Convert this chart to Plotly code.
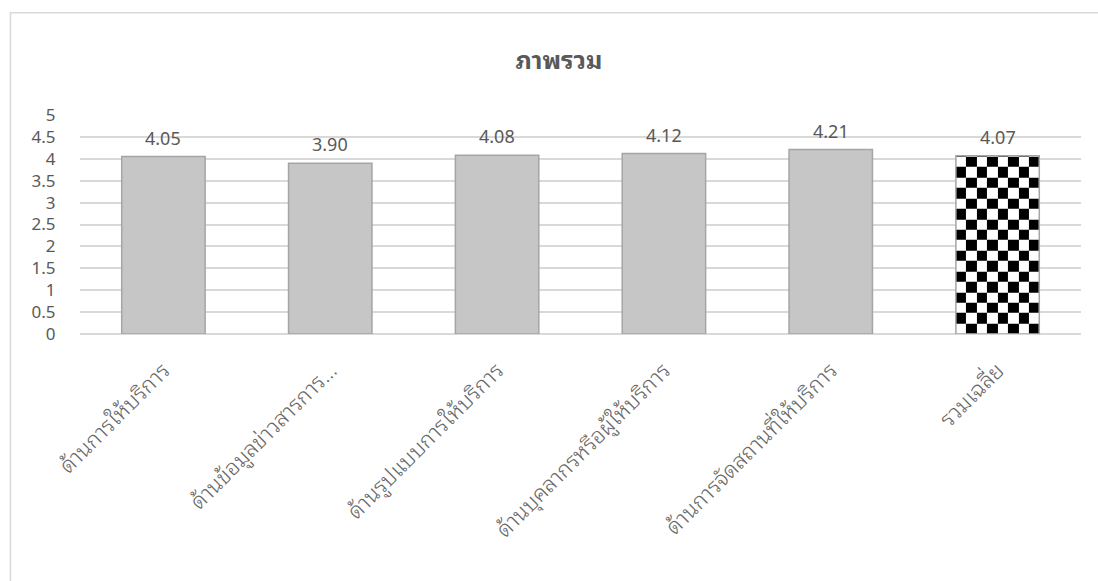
import numpy as np
import plotly.graph_objects as go

# ---- data ----
categories = [
    "ด้านการให้บริการ",
    "ด้านข้อมูลข่าวสารการ…",
    "ด้านรูปแบบการให้บริการ",
    "ด้านบุคลากรหรือผู้ให้บริการ",
    "ด้านการจัดสถานที่ให้บริการ",
    "รวมเฉลี่ย",
]
scores = [4.05, 3.90, 4.08, 4.12, 4.21, 4.07]
y_ticks = [0, 0.5, 1, 1.5, 2, 2.5, 3, 3.5, 4, 4.5, 5]
title_text = "ภาพรวม"

THAI_FONT = ("Leelawadee UI, Tahoma, Noto Sans Thai Looped, Loma, Garuda, "
             "Noto Sans Thai, Noto Sans, DejaVu Sans, sans-serif")
NUM_FONT = "Segoe UI, Noto Sans, Open Sans, sans-serif"
TEXT_GREY = "#595959"
GRID = "#d9d9d9"
BAR_FILL = "#c6c6c6"
BAR_EDGE = "#a5a5a5"
BAR_HALF = 0.25          # half bar width in category units

x_pos = list(range(len(categories)))
avg_idx = len(categories) - 1

fig = go.Figure()

# checkerboard fill for the average bar (heatmap clipped to the bar extent)
n_cols = 8
cell_y = 0.238
avg_val = scores[avg_idx]
x_edges = np.linspace(avg_idx - BAR_HALF, avg_idx + BAR_HALF, n_cols + 1)
y_edges = list(np.arange(0, avg_val, cell_y))
if y_edges[-1] < avg_val:
    y_edges.append(avg_val)
n_rows = len(y_edges) - 1
checker = [[(r + c) % 2 for c in range(n_cols)] for r in range(n_rows)]
fig.add_trace(go.Heatmap(
    x=x_edges, y=y_edges, z=checker,
    colorscale=[[0, "white"], [1, "black"]],
    showscale=False, hoverinfo="skip", zsmooth=False,
))

# bars
fills = [BAR_FILL] * (len(categories) - 1) + ["rgba(0,0,0,0)"]
fig.add_trace(go.Bar(
    x=x_pos, y=scores, width=2 * BAR_HALF,
    marker=dict(color=fills, line=dict(color=BAR_EDGE, width=1.5)),
    showlegend=False,
))

# value labels above each bar
for xi, v in zip(x_pos, scores):
    fig.add_annotation(
        x=xi, y=v, text=f"{v:.2f}", showarrow=False,
        yanchor="bottom", yshift=5,
        font=dict(family=NUM_FONT, size=18, color=TEXT_GREY),
    )

# chart-area frame
fig.add_shape(type="rect", xref="paper", yref="paper",
              x0=-0.0695, x1=1.03, y0=-1.3, y1=1.4668,
              line=dict(color=GRID, width=1.5), layer="below")

fig.update_layout(
    width=1098, height=581,
    margin=dict(l=80, r=17, t=115, b=247),
    paper_bgcolor="white", plot_bgcolor="white",
    font=dict(family=THAI_FONT, size=18, color=TEXT_GREY),
    title=dict(text=title_text, x=559 / 1098, xanchor="center",
               y=1 - 60 / 581, yanchor="middle", yref="container",
               font=dict(family=THAI_FONT, size=25, color=TEXT_GREY, weight="bold")),
    showlegend=False,
    bargap=0.5,
)
fig.update_xaxes(
    range=[-0.5, len(categories) - 0.5],
    tickmode="array", tickvals=x_pos, ticktext=categories,
    tickangle=-45, showgrid=False, zeroline=False, showline=False,
    ticks="outside", ticklen=14, tickcolor="rgba(0,0,0,0)",
    tickfont=dict(family=THAI_FONT, size=22, color="#666666", weight=300),
)
fig.update_yaxes(
    range=[0, 5], tickmode="array", tickvals=y_ticks,
    ticktext=[f"{t:g}" for t in y_ticks],
    showgrid=True, gridcolor=GRID, gridwidth=1.5,
    zeroline=True, zerolinecolor=GRID, zerolinewidth=1.5,
    showline=False, ticks="outside", ticklen=20, tickcolor="rgba(0,0,0,0)",
    tickfont=dict(family=NUM_FONT, size=17, color=TEXT_GREY),
)

fig.write_html("out.html")
